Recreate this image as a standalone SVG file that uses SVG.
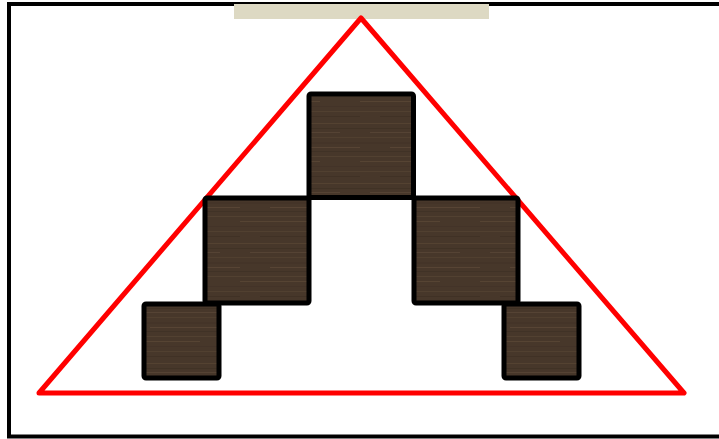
<svg xmlns="http://www.w3.org/2000/svg" width="719" height="439" viewBox="0 0 719 439">
<style>
.box{stroke:#000;stroke-width:5;stroke-linejoin:round;fill:url(#wood)}
.tri{fill:none;stroke:#ff0000;stroke-width:5;stroke-linejoin:round}
</style>
<defs>
<pattern id="wood" patternUnits="userSpaceOnUse" width="120" height="60">
<rect width="120" height="60" fill="#47372a"/>
<rect y="3" width="120" height="1" fill="#574533" opacity="0.8"/>
<rect y="8" width="120" height="1" fill="#3f3124" opacity="0.8"/>
<rect x="10" y="12" width="90" height="1" fill="#5c4937" opacity="0.7"/>
<rect y="17" width="120" height="1" fill="#564432" opacity="0.6"/>
<rect y="22" width="120" height="2" fill="#433427" opacity="0.7"/>
<rect x="30" y="27" width="90" height="1" fill="#5e4a38" opacity="0.7"/>
<rect y="31" width="120" height="1" fill="#3e3023" opacity="0.7"/>
<rect y="36" width="120" height="1" fill="#5a4735" opacity="0.6"/>
<rect x="0" y="41" width="80" height="1" fill="#604c39" opacity="0.6"/>
<rect y="46" width="120" height="1" fill="#413226" opacity="0.7"/>
<rect y="51" width="120" height="1" fill="#594634" opacity="0.6"/>
<rect x="20" y="56" width="100" height="1" fill="#3d2f22" opacity="0.7"/>
</pattern>
</defs>
<rect x="0" y="0" width="719" height="439" fill="#fff"/>
<g id="frame">
<rect x="9" y="4" width="740" height="432.5" fill="#fff" stroke="#000" stroke-width="4"/>
<rect x="234" y="4" width="255" height="15" fill="#ddd9c3"/>
</g>
<g id="triangle">
<polygon class="tri" points="361,18 684,393 39,393"/>
</g>
<g id="box-top"><rect class="box" x="309" y="94" width="104.5" height="103.5" rx="2"/></g>
<g id="box-mid-left"><rect class="box" x="205" y="198" width="104" height="105" rx="2"/></g>
<g id="box-mid-right"><rect class="box" x="414" y="198" width="104" height="105" rx="2"/></g>
<g id="box-bottom-left"><rect class="box" x="144" y="304" width="75" height="74" rx="2"/></g>
<g id="box-bottom-right"><rect class="box" x="504" y="304" width="75" height="74" rx="2"/></g>
</svg>
